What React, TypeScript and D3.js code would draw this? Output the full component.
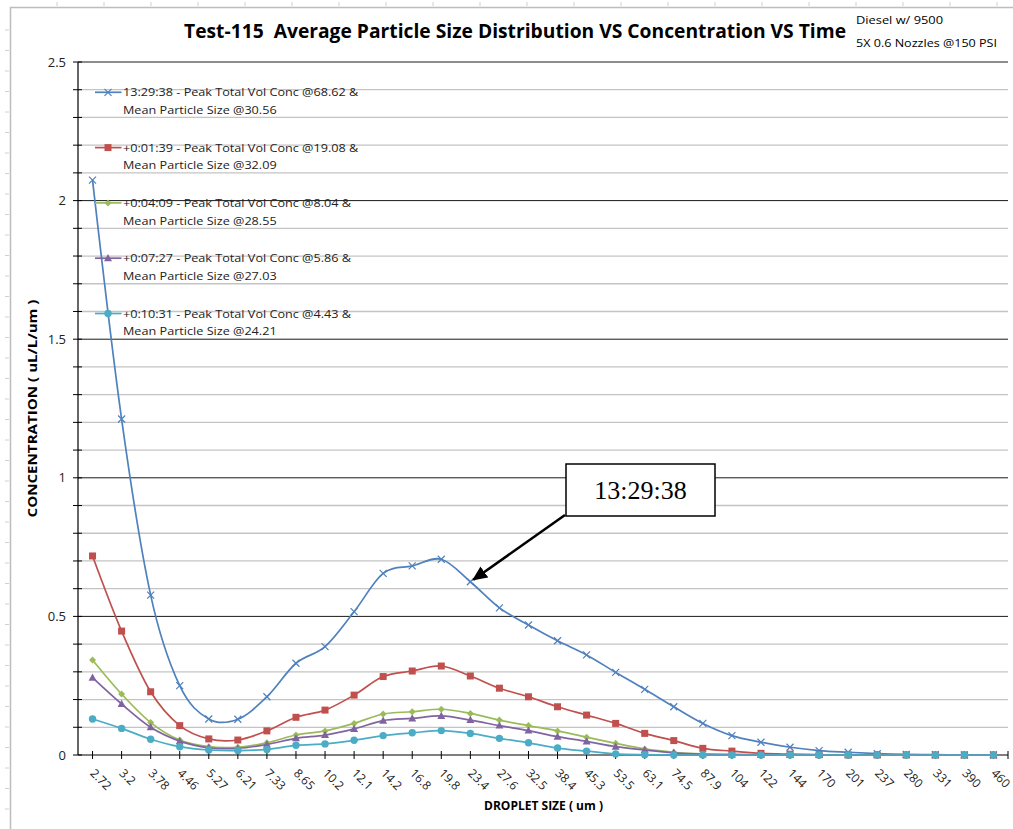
import React, { useEffect } from "react";
import * as d3 from "d3";

const W = 1013;
const H = 829;

const sizes = ["2.72","3.2","3.78","4.46","5.27","6.21","7.33","8.65","10.2","12.1","14.2","16.8","19.8","23.4","27.6","32.5","38.4","45.3","53.5","63.1","74.5","87.9","104","122","144","170","201","237","280","331","390","460"];

const s1 = [2.074,1.212,0.577,0.25,0.13,0.129,0.21,0.331,0.391,0.517,0.655,0.682,0.706,0.625,0.531,0.469,0.412,0.361,0.298,0.237,0.174,0.114,0.07,0.046,0.028,0.016,0.01,0.005,0.002,0.001,0,0];
const s2 = [0.718,0.447,0.228,0.106,0.058,0.054,0.087,0.136,0.162,0.216,0.283,0.303,0.321,0.285,0.241,0.21,0.174,0.144,0.114,0.078,0.052,0.024,0.014,0.006,0.003,0.001,0,0,0,0,0,0];
const s3 = [0.343,0.22,0.117,0.054,0.03,0.028,0.044,0.072,0.087,0.114,0.148,0.156,0.165,0.15,0.126,0.106,0.087,0.064,0.042,0.022,0.01,0.004,0.002,0.001,0,0,0,0,0,0,0,0];
const s4 = [0.279,0.184,0.1,0.05,0.026,0.024,0.038,0.06,0.072,0.094,0.124,0.132,0.141,0.126,0.106,0.088,0.066,0.049,0.03,0.018,0.008,0.003,0.001,0,0,0,0,0,0,0,0,0];
const s5 = [0.13,0.096,0.057,0.03,0.018,0.016,0.02,0.035,0.04,0.053,0.07,0.08,0.088,0.078,0.06,0.044,0.025,0.014,0.004,0.001,0,0,0,0,0,0,0,0,0,0,0,0];

const seriesNames = [
  ["13:29:38 - Peak Total Vol Conc @68.62 &", "Mean Particle Size @30.56"],
  ["+0:01:39 - Peak Total Vol Conc @19.08 &", "Mean Particle Size @32.09"],
  ["+0:04:09 - Peak Total Vol Conc @8.04 &", "Mean Particle Size @28.55"],
  ["+0:07:27 - Peak Total Vol Conc @5.86 &", "Mean Particle Size @27.03"],
  ["+0:10:31 - Peak Total Vol Conc @4.43 &", "Mean Particle Size @24.21"],
];
const seriesColors = ["#4F81BD", "#C0504D", "#9BBB59", "#8064A2", "#4BACC6"];
const seriesMarkers = ["cross", "square", "diamond", "triangle", "circle"];
const seriesData = [s1, s2, s3, s4, s5];

const yMajor = [0, 0.5, 1, 1.5, 2, 2.5];
const yTickLabels = ["0", "0.5", "1", "1.5", "2", "2.5"];

const plot = { left: 78, right: 1008, top: 62, bottom: 755 };
const FONT = "'Open Sans', Lato, sans-serif";

function Marker({ kind, x, y, color }: { kind: string; x: number; y: number; color: string }) {
  if (kind === "cross") {
    const r = 3.5;
    return (
      <path d={`M${x - r},${y - r}L${x + r},${y + r}M${x - r},${y + r}L${x + r},${y - r}`} stroke={color} strokeWidth={1.2} fill="none" />
    );
  }
  if (kind === "square") return <rect x={x - 3.5} y={y - 3.5} width={7} height={7} fill={color} />;
  if (kind === "diamond") return <path d={`M${x},${y - 3.5}L${x + 3.5},${y}L${x},${y + 3.5}L${x - 3.5},${y}Z`} fill={color} />;
  if (kind === "triangle") return <path d={`M${x},${y - 4.2}L${x + 4},${y + 3}L${x - 4},${y + 3}Z`} fill={color} />;
  return <circle cx={x} cy={y} r={3.7} fill={color} />;
}

export default function App() {
  useEffect(() => {
    document.body.style.margin = "0";
  }, []);

  const x = d3.scaleBand<string>().domain(sizes).range([plot.left, plot.right]).padding(0);
  const cx = (s: string) => (x(s) as number) + x.bandwidth() / 2;
  const y = d3.scaleLinear().domain([0, 2.5]).range([plot.bottom, plot.top]);
  const minorTicks = d3.range(0, 26).map((i) => i / 10);

  const line = d3
    .line<number>()
    .x((_, i) => cx(sizes[i]))
    .y((d) => y(d))
    .curve(d3.curveCatmullRom.alpha(0));

  const topRuler = d3.range(57, W, 47);
  const leftRuler = d3.range(30, H, 20.5);

  return (
    <div style={{ position: "absolute", left: 0, top: 0 }}>
      <svg width={W} height={H} style={{ display: "block", background: "#fff" }}>
        <rect x={0} y={0} width={W} height={H} fill="#fff" />
        {/* sheet artifacts */}
        {topRuler.map((t, i) => (
          <line key={"tr" + i} x1={t} x2={t} y1={2} y2={6} stroke="#d0d0d0" strokeWidth={1} />
        ))}
        {leftRuler.map((t, i) => (
          <line key={"lr" + i} x1={5} x2={9} y1={t} y2={t} stroke="#d0d0d0" strokeWidth={1} />
        ))}
        <path d={`M10.5,${H}L10.5,7.5L${W},7.5`} fill="none" stroke="#bdbdbd" strokeWidth={1.5} />

        {/* title */}
        <text x={184} y={38} xmlSpace="preserve" textLength={662} lengthAdjust="spacingAndGlyphs" fontFamily={FONT} fontWeight="bold" fontSize={19} fill="#000">
          {"Test-115  Average Particle Size Distribution VS Concentration VS Time"}
        </text>
        <text x={856} y={24} textLength={87} lengthAdjust="spacingAndGlyphs" fontFamily={FONT} fontSize={11} fill="#000">Diesel w/ 9500</text>
        <text x={856} y={46.5} textLength={141} lengthAdjust="spacingAndGlyphs" fontFamily={FONT} fontSize={11} fill="#000">5X 0.6 Nozzles @150 PSI</text>

        {/* gridlines */}
        {minorTicks.map((t, i) =>
          i % 5 === 0 ? null : (
            <line key={"mg" + i} x1={plot.left} x2={plot.right} y1={y(t)} y2={y(t)} stroke="#c4c4c4" strokeWidth={1.3} />
          )
        )}
        {yMajor.slice(1).map((t, i) => (
          <line key={"Mg" + i} x1={plot.left} x2={plot.right} y1={y(t)} y2={y(t)} stroke="#1a1a1a" strokeWidth={1} />
        ))}

        {/* y axis */}
        <line x1={plot.left} x2={plot.left} y1={plot.top} y2={plot.bottom} stroke="#000" strokeWidth={1.2} />
        {minorTicks.map((t, i) => (
          <line key={"yt" + i} x1={plot.left - 5} x2={plot.left + 4} y1={y(t)} y2={y(t)} stroke="#000" strokeWidth={1} />
        ))}
        {yMajor.map((t, i) => (
          <text key={"yl" + i} x={66} y={y(t)} dy="0.35em" textAnchor="end" fontFamily={FONT} fontSize={13} fill="#222">
            {yTickLabels[i]}
          </text>
        ))}
        <text
          transform={`translate(37,${(plot.top + plot.bottom) / 2}) rotate(-90)`}
          x={-109}
          textLength={218}
          lengthAdjust="spacingAndGlyphs"
          fontFamily={FONT}
          fontWeight="bold"
          fontSize={12}
          fill="#000"
        >
          CONCENTRATION ( uL/L/um )
        </text>

        {/* x axis */}
        <line x1={plot.left} x2={plot.right} y1={plot.bottom} y2={plot.bottom} stroke="#000" strokeWidth={1.2} />
        {sizes.map((s) => (
          <line key={"xt" + s} x1={cx(s)} x2={cx(s)} y1={plot.bottom - 4} y2={plot.bottom + 4} stroke="#000" strokeWidth={1} />
        ))}
        <line x1={plot.right} x2={plot.right} y1={plot.bottom - 4} y2={plot.bottom + 4} stroke="#000" strokeWidth={1} />
        {sizes.map((s) => (
          <text
            key={"xl" + s}
            transform={`translate(${cx(s) - 3},${plot.bottom + 19}) rotate(45)`}
            fontFamily={FONT}
            fontSize={12}
            fill="#222"
          >
            {s}
          </text>
        ))}
        <text x={484} y={810} textLength={119} lengthAdjust="spacingAndGlyphs" fontFamily={FONT} fontWeight="bold" fontSize={12.5} fill="#000">
          DROPLET SIZE ( um )
        </text>

        {/* series */}
        {seriesData.map((data, k) => (
          <g key={"s" + k}>
            <path d={line(data) || ""} fill="none" stroke={seriesColors[k]} strokeWidth={1.7} />
            {data.map((v, i) => (
              <Marker key={i} kind={seriesMarkers[k]} x={cx(sizes[i])} y={y(v)} color={seriesColors[k]} />
            ))}
          </g>
        ))}

        {/* legend */}
        {seriesNames.map((nm, k) => {
          const ly = 92.3 + k * 55.3;
          return (
            <g key={"lg" + k}>
              <line x1={95} x2={121.5} y1={ly} y2={ly} stroke={seriesColors[k]} strokeWidth={1.7} />
              <Marker kind={seriesMarkers[k]} x={108} y={ly} color={seriesColors[k]} />
              <g transform={`translate(123,0) scale(1.1,1)`}>
                <text x={0} y={ly} dy="0.36em" fontFamily={FONT} fontSize={11.5} fill="#222">{nm[0]}</text>
                <text x={0} y={ly + 17.7} dy="0.36em" fontFamily={FONT} fontSize={11.5} fill="#222">{nm[1]}</text>
              </g>
            </g>
          );
        })}

        {/* annotation */}
        <defs>
          <marker id="ah" viewBox="0 0 10 10" refX={9} refY={5} markerWidth={6} markerHeight={6} orient="auto" markerUnits="strokeWidth">
            <path d="M0,0.5L10,5L0,9.5Z" fill="#000" />
          </marker>
        </defs>
        <line x1={565} x2={cx("23.4") + 3} y1={515} y2={y(0.625) - 2} stroke="#000" strokeWidth={2.5} markerEnd="url(#ah)" />
        <rect x={566} y={464} width={149} height={52} fill="#fff" stroke="#000" strokeWidth={1.5} />
        <text x={640.5} y={490} dy="0.35em" textAnchor="middle" fontFamily="'Liberation Serif', 'Times New Roman', serif" fontSize={26} fill="#000">
          13:29:38
        </text>
      </svg>
    </div>
  );
}
